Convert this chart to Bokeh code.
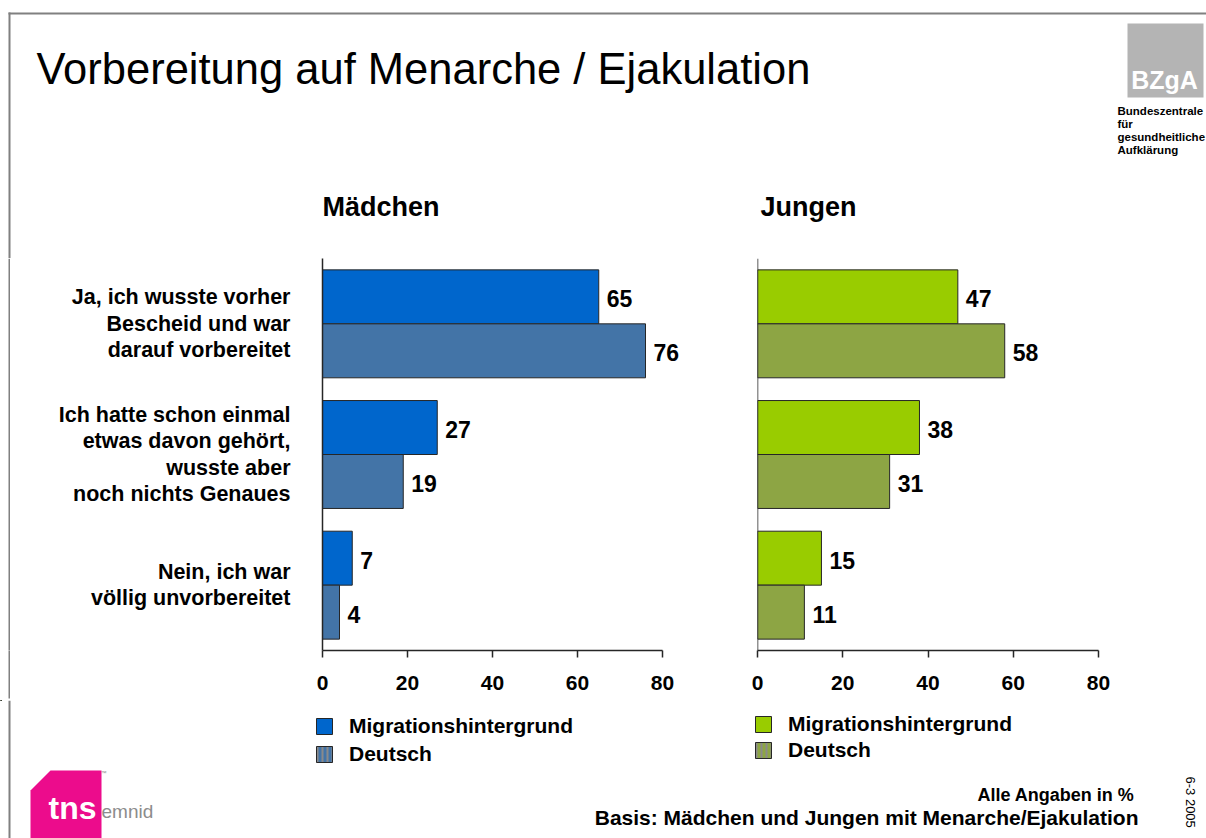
import math
from bokeh.plotting import figure
from bokeh.models import (Range1d, FactorRange, FixedTicker, Label, Legend, LegendItem,
                          ColumnDataSource, Span)
from bokeh.transform import dodge
from bokeh.layouts import column, row
from bokeh.embed import file_html
from bokeh.resources import INLINE
from bokeh.core.properties import value

FONT = "Liberation Sans"

# ---------------- data ----------------
title_text = "Vorbereitung auf Menarche / Ejakulation"
panel_titles = ["Mädchen", "Jungen"]
categories = [
    "Ja, ich wusste vorher\nBescheid und war\ndarauf vorbereitet",
    "Ich hatte schon einmal\netwas davon gehört,\nwusste aber\nnoch nichts Genaues",
    "Nein, ich war\nvöllig unvorbereitet",
]
series_names = ["Migrationshintergrund", "Deutsch"]
girls_migration = [65, 27, 7]
girls_deutsch = [76, 19, 4]
boys_migration = [47, 38, 15]
boys_deutsch = [58, 31, 11]
x_ticks = [0, 20, 40, 60, 80]
footnote_1 = "Alle Angaben in %"
footnote_2 = "Basis: Mädchen und Jungen mit Menarche/Ejakulation"
date_text = "6-3 2005"
org_lines = ["Bundeszentrale", "für", "gesundheitliche", "Aufklärung"]

# ---------------- styles ----------------
BORDER = "#808080"
C_GM, C_GD = "#0066CC", "#4374A7"
C_BM, C_BD = "#99CC00", "#8DA544"
OUTLINE = "#262626"

W = 1206
H_HEAD, H_MID, H_FOOT = 258, 442, 138
MB_BOTTOM = 50


def blank(w, h, fill="white"):
    p = figure(width=w, height=h, x_range=Range1d(0, w), y_range=Range1d(h, 0),
               min_border=0, toolbar_location=None, output_backend="svg",
               x_axis_location=None, y_axis_location=None, title=None)
    p.grid.visible = False
    p.outline_line_color = None
    p.background_fill_color = fill
    p.border_fill_color = fill
    return p


def label(p, x, y, text, size, bold=False, align="left", color="black", angle=0.0):
    p.add_layout(Label(x=x, y=y, text=text, text_font=FONT, text_font_size=size,
                       text_font_style="bold" if bold else "normal", text_align=align,
                       text_baseline="middle", text_color=color, angle=angle))


# ---------------- header ----------------
head = blank(W, H_HEAD)
head.segment(x0=[8], y0=[13], x1=[W], y1=[13], line_color=BORDER, line_width=2)
head.segment(x0=[9], y0=[12], x1=[9], y1=[H_HEAD], line_color=BORDER, line_width=2)
label(head, 36, 68, title_text, "43.5px")
head.quad(left=[1127], right=[1203], top=[23], bottom=[97], fill_color="#B4B4B4", line_color=None)
label(head, 1164, 79, "BZgA", "25px", bold=True, align="center", color="white")
for i, t in enumerate(org_lines):
    label(head, 1117, 110 + 13 * i, t, "11.5px", bold=True)
label(head, 322, 206, panel_titles[0], "27px", bold=True)
label(head, 760, 206, panel_titles[1], "27px", bold=True)

# ---------------- slide border for the middle band ----------------
strip = figure(width=10, height=H_MID, x_range=Range1d(0, 10), y_range=Range1d(0, 1),
               min_border=0, toolbar_location=None, output_backend="svg",
               y_axis_location=None, title=None)
strip.grid.visible = False
strip.outline_line_color = None
strip.background_fill_color = "white"
strip.border_fill_color = "white"
strip.quad(left=[8], right=[10], bottom=[0], top=[1], fill_color=BORDER, line_color=None)
sa = strip.xaxis[0]
sa.ticker = FixedTicker(ticks=[9])
sa.axis_line_color = None
sa.major_tick_in = 0
sa.major_tick_out = MB_BOTTOM - 2
sa.minor_tick_in = 0
sa.minor_tick_out = 0
sa.major_tick_line_color = BORDER
sa.major_tick_line_width = 2
sa.major_label_overrides = {9: ""}
sa.major_label_text_font_size = "1px"
sa.major_label_standoff = 0

BAR_H = 0.413
OFF = 0.2065


def panel(width, mb_left, mb_right, x_end, migr, deut, c_m, c_d, show_axis_labels):
    p = figure(width=width, height=H_MID, x_range=Range1d(0, x_end),
               y_range=FactorRange(factors=categories[::-1]),
               min_border_left=mb_left, min_border_right=mb_right,
               min_border_top=0, min_border_bottom=MB_BOTTOM, title=None,
               y_axis_location="left" if show_axis_labels else None,
               toolbar_location=None, output_backend="svg")
    p.grid.visible = False
    p.outline_line_color = None
    p.background_fill_color = "white"
    p.border_fill_color = "white"
    src = ColumnDataSource(dict(cat=categories, migr=migr, deut=deut,
                                migr_lbl=[str(v) for v in migr],
                                deut_lbl=[str(v) for v in deut]))
    y_m = dodge("cat", OFF, range=p.y_range)
    y_d = dodge("cat", -OFF, range=p.y_range)
    p.hbar(y=y_m, left=0, right="migr", height=BAR_H, source=src,
           fill_color=c_m, line_color=OUTLINE, line_width=1)
    p.hbar(y=y_d, left=0, right="deut", height=BAR_H, source=src,
           fill_color=c_d, line_color=OUTLINE, line_width=1)
    for col, yy in (("migr", y_m), ("deut", y_d)):
        p.text(x=col, y=yy, text=col + "_lbl", source=src, x_offset=8, y_offset=2,
               text_baseline="middle", text_align="left", text_font=value(FONT),
               text_font_style="bold", text_font_size="23px", text_color="black")
    xa = p.xaxis[0]
    xa.ticker = FixedTicker(ticks=x_ticks)
    xa.bounds = (0, 80)
    xa.major_tick_out = 7
    xa.major_tick_in = 0
    xa.minor_tick_out = 0
    xa.minor_tick_in = 0
    xa.axis_line_color = OUTLINE
    xa.axis_line_width = 1.5
    xa.major_tick_line_color = OUTLINE
    xa.major_tick_line_width = 1.5
    xa.major_label_text_font = FONT
    xa.major_label_text_font_size = "21px"
    xa.major_label_text_font_style = "bold"
    xa.major_label_text_color = "black"
    xa.major_label_standoff = 18
    if show_axis_labels:
        ya = p.yaxis[0]
        ya.major_tick_out = 0
        ya.major_tick_in = 0
        ya.minor_tick_out = 0
        ya.minor_tick_in = 0
        ya.axis_line_color = OUTLINE
        ya.axis_line_width = 1.5
        ya.major_label_text_font = FONT
        ya.major_label_text_font_size = "21.5px"
        ya.major_label_text_font_style = "bold"
        ya.major_label_text_color = "black"
        ya.major_label_text_line_height = 1.1
        ya.major_label_standoff = 32
    else:
        p.add_layout(Span(location=0, dimension="height", line_color=OUTLINE, line_width=1.5))
    return p


left = panel(702, 312, 12, 378 / 4.25, girls_migration, girls_deutsch, C_GM, C_GD, True)
right = panel(494, 45, 0, 449 / 4.2625, boys_migration, boys_deutsch, C_BM, C_BD, False)

# ---------------- footer ----------------
foot = blank(W, H_FOOT)
foot.segment(x0=[9], y0=[0], x1=[9], y1=[H_FOOT], line_color=BORDER, line_width=2)


def swatch(p, color, hatch):
    kw = dict(fill_color=color, line_color=OUTLINE, line_width=1)
    if hatch:
        kw.update(hatch_pattern="|", hatch_color="#8a8a8a", hatch_scale=5, hatch_weight=2)
    # a single point kept outside the visible range: only its legend swatch shows
    return p.hbar(y=[-500], left=[0], right=[1], height=1, **kw)


def legend(p, c_m, c_d, loc, spacing):
    r1 = swatch(p, c_m, False)
    r2 = swatch(p, c_d, True)
    lg = Legend(items=[LegendItem(label=series_names[0], renderers=[r1]),
                       LegendItem(label=series_names[1], renderers=[r2])],
                location=loc, orientation="vertical", margin=0, padding=0,
                spacing=spacing, glyph_width=20, glyph_height=20, label_standoff=15,
                label_height=24, label_text_font=FONT, label_text_font_size="21px",
                label_text_font_style="bold", label_text_color="black",
                border_line_color=None, background_fill_alpha=0)
    p.add_layout(lg)


legend(foot, C_GM, C_GD, (314, 72), 4)
legend(foot, C_BM, C_BD, (753, 76), 2)

# tns emnid logo
foot.patch(x=[30, 50, 101, 101, 30], y=[90, 70, 70, 138, 138], fill_color="#EC0C8C", line_color=None)
label(foot, 48, 107, "tns", "32px", bold=True, color="white")
label(foot, 101, 111, "emnid", "19px", color="#8C8C8C")
label(foot, 100, 72, "™", "6px", color="#8C8C8C")

label(foot, 1134, 94.5, footnote_1, "18px", bold=True, align="right")
label(foot, 1138, 117, footnote_2, "21px", bold=True, align="right")
label(foot, 1190, 76, date_text, "13px", align="left", angle=-math.pi / 2)

layout = column(head, row(strip, left, right), foot)

with open("out.html", "w") as f:
    f.write(file_html(layout, INLINE))
